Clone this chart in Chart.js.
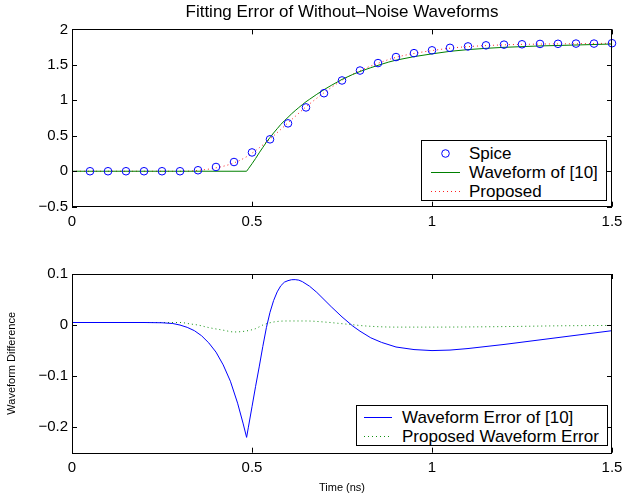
<!DOCTYPE html>
<html lang="en">
<head>
  <meta charset="UTF-8">
  <title>Fitting Error of Without-Noise Waveforms</title>
  <script src="https://cdn.jsdelivr.net/npm/chart.js"></script>
  <style>
    body {
      margin: 0;
      background: #fff;
      font-family: "Liberation Sans", Arial, Helvetica, sans-serif;
    }
    #wrap {
      position: relative;
      width: 640px;
      height: 495px;
    }
    .panel {
      position: absolute;
      left: 0;
      width: 640px;
    }
    .legend {
      position: absolute;
      box-sizing: border-box;
      background: #fff;
      border: 1px solid #000;
      font-size: 17px;
      color: #000;
    }
    .legend .row {
      position: relative;
      height: 19px;
      line-height: 19px;
      white-space: nowrap;
    }
    .legend svg {
      position: absolute;
      top: 0;
      left: 0;
    }
    .legend span {
      position: absolute;
      top: 0;
    }
  </style>
</head>
<body>
  <div id="wrap">
    <div class="panel" style="top:0;height:240px"><canvas id="topChart"></canvas></div>
    <div class="panel" style="top:240px;height:255px"><canvas id="bottomChart"></canvas></div>
    <div class="legend" id="topLegend" style="left:421px;top:140px;width:186px;height:61px;padding-top:3px"></div>
    <div class="legend" id="bottomLegend" style="left:356px;top:405px;width:252px;height:41px;padding-top:2px"></div>
  </div>

  <script>
    // tick values
    const xTicks = [0, 0.5, 1, 1.5];
    const topYTicks = [-0.5, 0, 0.5, 1, 1.5, 2];
    const bottomYTicks = [-0.2, -0.1, 0, 0.1];

    // Spice samples (circles)
    const spiceT = [0.05, 0.1, 0.15, 0.2, 0.25, 0.3, 0.35, 0.4, 0.45, 0.5,
                    0.55, 0.6, 0.65, 0.7, 0.75, 0.8, 0.85, 0.9, 0.95, 1.0,
                    1.05, 1.1, 1.15, 1.2, 1.25, 1.3, 1.35, 1.4, 1.45, 1.5];
    const spiceV = [0, 0, 0, 0, 0, 0, 0.014, 0.06, 0.13, 0.265,
                    0.45, 0.675, 0.9, 1.1, 1.28, 1.42, 1.525, 1.61, 1.665, 1.705,
                    1.74, 1.76, 1.775, 1.785, 1.79, 1.795, 1.797, 1.8, 1.8, 1.805];

    // Waveform of [10]
    const waveT = [0, 0.485, 0.49, 0.5, 0.51, 0.52, 0.53, 0.54, 0.55, 0.56, 0.57, 0.58, 0.59,
                   0.6, 0.61, 0.62, 0.63, 0.64, 0.65, 0.66, 0.68, 0.7, 0.72, 0.75, 0.78, 0.8,
                   0.83, 0.85, 0.88, 0.9, 0.95, 1.0, 1.05, 1.1, 1.15, 1.2, 1.3, 1.4, 1.5];
    const waveV = [0, 0, 0.035, 0.106, 0.18, 0.26, 0.335, 0.41, 0.475, 0.54, 0.6, 0.66, 0.712,
                   0.76, 0.81, 0.855, 0.898, 0.94, 0.98, 1.015, 1.085, 1.15, 1.21, 1.295, 1.365, 1.407,
                   1.46, 1.493, 1.54, 1.566, 1.616, 1.655, 1.691, 1.715, 1.733, 1.747, 1.767, 1.78, 1.794];

    // Proposed
    const propT = [0, 0.3, 0.33, 0.35, 0.38, 0.4, 0.42, 0.45, 0.48, 0.5, 0.52, 0.55, 0.58, 0.6,
                   0.62, 0.65, 0.7, 0.75, 0.8, 0.85, 0.9, 0.95, 1.0, 1.05, 1.1, 1.2, 1.3, 1.4, 1.5];
    const propV = [0, 0, 0.003, 0.012, 0.03, 0.048, 0.07, 0.118, 0.19, 0.255, 0.33, 0.455, 0.59, 0.683,
                   0.773, 0.908, 1.106, 1.282, 1.418, 1.522, 1.606, 1.661, 1.701, 1.735, 1.757, 1.782, 1.793, 1.798, 1.804];

    // Waveform Error of [10]
    const errT = [0, 0.1, 0.2, 0.25, 0.28, 0.3, 0.32, 0.34, 0.36, 0.38, 0.4, 0.42, 0.44, 0.46, 0.475,
                  0.485, 0.49, 0.5, 0.51, 0.52, 0.53, 0.54, 0.55, 0.56, 0.57, 0.58, 0.59, 0.6, 0.61,
                  0.62, 0.63, 0.64, 0.66, 0.68, 0.7, 0.72, 0.75, 0.78, 0.8, 0.83, 0.86, 0.9, 0.95,
                  1.0, 1.05, 1.1, 1.2, 1.3, 1.4, 1.5];
    const errV = [0.005, 0.005, 0.005, 0.0045, 0.003, 0, -0.0045, -0.011, -0.021, -0.035, -0.053, -0.078, -0.11, -0.153, -0.192,
                  -0.22, -0.2, -0.16, -0.12, -0.082, -0.042, -0.005, 0.025, 0.048, 0.065, 0.077, 0.084, 0.087, 0.0888,
                  0.089, 0.088, 0.085, 0.076, 0.064, 0.05, 0.036, 0.016, -0.002, -0.012, -0.025, -0.034, -0.043, -0.048,
                  -0.05, -0.049, -0.046, -0.038, -0.029, -0.02, -0.011];

    // Proposed Waveform Error
    const propErrT = [0, 0.3, 0.33, 0.35, 0.38, 0.42, 0.45, 0.48, 0.51, 0.53, 0.56, 0.6, 0.65, 0.7,
                      0.76, 0.82, 0.9, 1.0, 1.2, 1.35, 1.5];
    const propErrV = [0.005, 0.005, 0.002, 0, -0.005, -0.01, -0.0135, -0.012, -0.007, 0, 0.006, 0.008, 0.008, 0.006,
                      0.002, -0.002, -0.004, -0.004, -0.003, -0.0015, -0.0007];

    const pts = (t, v) => t.map((x, i) => ({x: x, y: v[i]}));
    const fmt = v => String(+(+v).toFixed(2)).replace('-', '\u2212');

    Chart.defaults.font.family = '"Liberation Sans", Arial, Helvetica, sans-serif';
    Chart.defaults.font.size = 15;
    Chart.defaults.color = '#000';

    // MATLAB style box with inward ticks on all four sides
    const frameTicks = {
      id: 'frameTicks',
      afterDatasetsDraw(chart) {
        const {ctx, chartArea: a, scales: {x, y}} = chart;
        const len = 5;
        ctx.save();
        ctx.strokeStyle = '#000';
        ctx.lineWidth = 1;
        ctx.beginPath();
        x.ticks.forEach(t => {
          const px = Math.round(x.getPixelForValue(t.value)) + 0.5;
          ctx.moveTo(px, a.bottom); ctx.lineTo(px, a.bottom - len);
          ctx.moveTo(px, a.top); ctx.lineTo(px, a.top + len);
        });
        y.ticks.forEach(t => {
          const py = Math.round(y.getPixelForValue(t.value)) + 0.5;
          ctx.moveTo(a.left, py); ctx.lineTo(a.left + len, py);
          ctx.moveTo(a.right, py); ctx.lineTo(a.right - len, py);
        });
        ctx.stroke();
        ctx.strokeRect(Math.round(a.left) + 0.5, Math.round(a.top) + 0.5,
                       Math.round(a.width) - 1, Math.round(a.height));
        ctx.restore();
      }
    };

    function xScale(height, title) {
      return {
        type: 'linear',
        min: 0,
        max: 1.5,
        grid: {display: false, drawTicks: false},
        border: {display: false},
        afterBuildTicks: s => { s.ticks = xTicks.map(v => ({value: v})); },
        afterFit: s => { s.height = height; },
        ticks: {padding: 6, maxRotation: 0, callback: fmt},
        title: title
      };
    }

    function yScale(min, max, tickList, title) {
      return {
        min: min,
        max: max,
        grid: {display: false, drawTicks: false},
        border: {display: false},
        afterBuildTicks: s => { s.ticks = tickList.map(v => ({value: v})); },
        afterFit: s => { s.width = 72; },
        ticks: {padding: 4, callback: fmt},
        title: title
      };
    }

    const topDatasets = [
      {
        label: 'Spice',
        data: pts(spiceT, spiceV),
        showLine: false,
        pointStyle: 'circle',
        pointRadius: 3.8,
        pointBorderWidth: 1,
        pointBorderColor: '#0000ff',
        pointBackgroundColor: 'rgba(0,0,0,0)',
        clip: false
      },
      {
        label: 'Waveform of [10]',
        data: pts(waveT, waveV),
        borderColor: '#008000',
        borderWidth: 1,
        pointRadius: 0,
        tension: 0
      },
      {
        label: 'Proposed',
        data: pts(propT, propV),
        borderColor: '#ff2020',
        borderWidth: 1,
        borderDash: [1, 3],
        pointRadius: 0,
        cubicInterpolationMode: 'monotone'
      }
    ];

    const bottomDatasets = [
      {
        label: 'Waveform Error of [10]',
        data: pts(errT, errV),
        borderColor: '#0000ff',
        borderWidth: 1,
        pointRadius: 0,
        tension: 0
      },
      {
        label: 'Proposed Waveform Error',
        data: pts(propErrT, propErrV),
        borderColor: '#109010',
        borderWidth: 1,
        borderDash: [1, 3],
        pointRadius: 0,
        cubicInterpolationMode: 'monotone'
      }
    ];

    new Chart(document.getElementById('topChart'), {
      type: 'line',
      data: {datasets: topDatasets},
      options: {
        responsive: true,
        maintainAspectRatio: false,
        animation: false,
        layout: {padding: {top: 0, right: 28, bottom: 0, left: 0}},
        plugins: {
          legend: {display: false},
          tooltip: {enabled: false},
          title: {
            display: true,
            fullSize: false,
            text: 'Fitting Error of Without\u2013Noise Waveforms',
            font: {size: 17, weight: 'normal'},
            padding: {top: 2, bottom: 7}
          }
        },
        scales: {
          x: xScale(33.3, {display: false}),
          y: yScale(-0.5, 2, topYTicks, {display: false})
        }
      },
      plugins: [frameTicks]
    });

    new Chart(document.getElementById('bottomChart'), {
      type: 'line',
      data: {datasets: bottomDatasets},
      options: {
        responsive: true,
        maintainAspectRatio: false,
        animation: false,
        layout: {padding: {top: 34, right: 28, bottom: 0, left: 0}},
        plugins: {
          legend: {display: false},
          tooltip: {enabled: false}
        },
        scales: {
          x: xScale(42.3, {display: true, text: 'Time (ns)', font: {size: 11}, padding: {top: 0, bottom: 0.5}}),
          y: yScale(-0.25, 0.1, bottomYTicks, {display: true, text: 'Waveform Difference', font: {size: 11}, padding: {top: 5.4, bottom: 0}})
        }
      },
      plugins: [frameTicks]
    });

    // legends drawn as html boxes from the dataset styles
    function buildLegend(el, datasets, symLeft, symWidth, textLeft) {
      datasets.forEach(ds => {
        const row = document.createElement('div');
        row.className = 'row';
        let sym;
        if (ds.showLine === false) {
          const cx = symLeft + symWidth / 2;
          sym = `<circle cx="${cx}" cy="9.5" r="3.8" fill="none" stroke="${ds.pointBorderColor}" stroke-width="1"/>`;
        } else {
          const dash = ds.borderDash ? ` stroke-dasharray="${ds.borderDash.join(' ')}"` : '';
          sym = `<line x1="${symLeft}" y1="9.5" x2="${symLeft + symWidth}" y2="9.5" stroke="${ds.borderColor}" stroke-width="1"${dash}/>`;
        }
        row.innerHTML = `<svg width="${textLeft}" height="19">${sym}</svg><span style="left:${textLeft}px">${ds.label}</span>`;
        el.appendChild(row);
      });
    }
    buildLegend(document.getElementById('topLegend'), topDatasets, 9, 29, 47);
    buildLegend(document.getElementById('bottomLegend'), bottomDatasets, 7, 28, 45);
  </script>
</body>
</html>
